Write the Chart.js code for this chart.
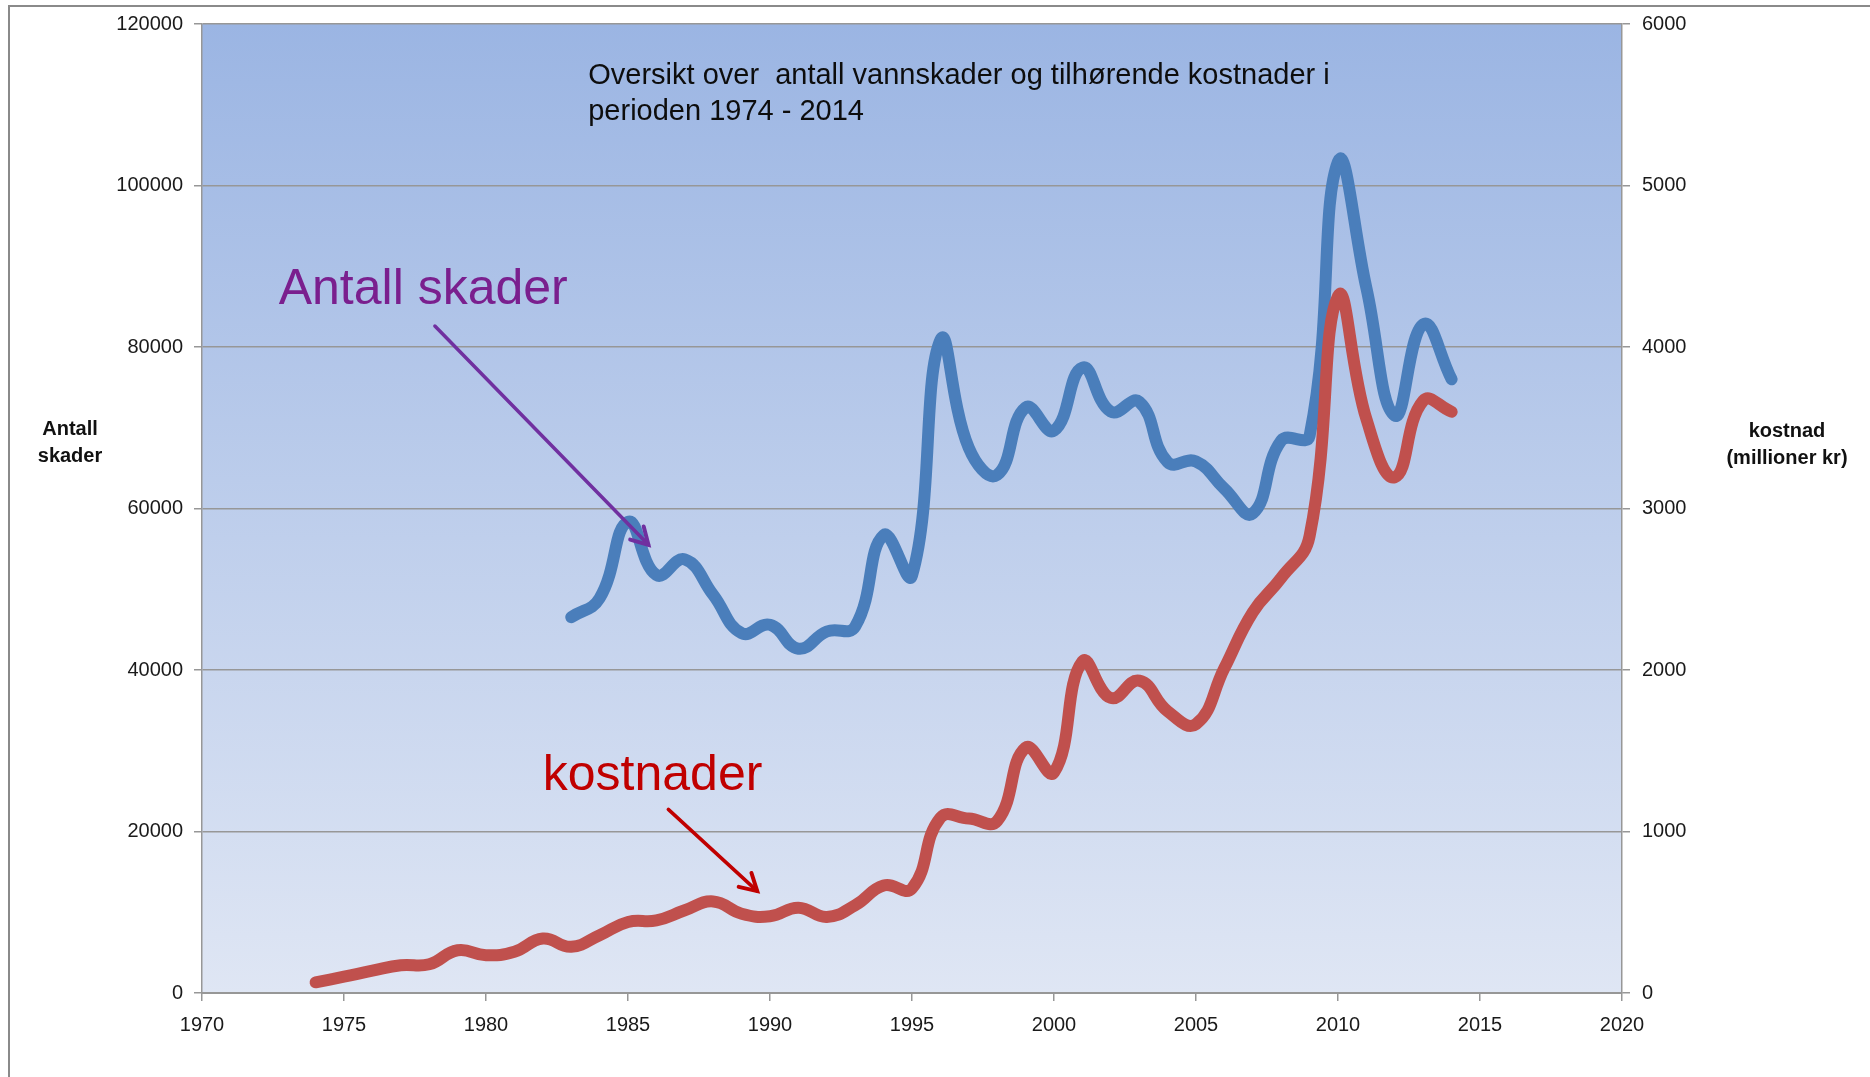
<!DOCTYPE html>
<html>
<head>
<meta charset="utf-8">
<title>Vannskader 1974 - 2014</title>
<script src="https://cdn.jsdelivr.net/npm/chart.js@4.4.1/dist/chart.umd.min.js"></script>
<style>
  html, body { margin: 0; padding: 0; background: #fff; }
  #wrap { position: relative; width: 1870px; height: 1077px; overflow: hidden; }
  #frame { position: absolute; left: 8px; top: 5px; right: -10px; bottom: -10px;
           border-left: 2px solid #8a8a8a; border-top: 2px solid #8a8a8a; }
  canvas { position: absolute; left: 0; top: 0; }
</style>
</head>
<body>
<div id="wrap">
  <div id="frame"></div>
  <canvas id="chart" width="1870" height="1077"></canvas>
</div>
<script>
// Data
const skadeYears = [1983, 1984, 1985, 1986, 1987, 1988, 1989, 1990, 1991, 1992,
                    1993, 1994, 1995, 1996, 1997, 1998, 1999, 2000, 2001, 2002,
                    2003, 2004, 2005, 2006, 2007, 2008, 2009, 2010, 2011, 2012,
                    2013, 2014];
const antallSkader = [46540, 48880, 58340, 51760, 53690, 49300, 44560, 45600, 42640, 44770,
                      45390, 56700, 51700, 80870, 67500, 64170, 72520, 69650, 77450, 71990,
                      73220, 65740, 65820, 62450, 59400, 68400, 69000, 102950, 87300, 71500,
                      82800, 76000];

const kostYears = [1974, 1975, 1976, 1977, 1978, 1979, 1980, 1981, 1982, 1983,
                   1984, 1985, 1986, 1987, 1988, 1989, 1990, 1991, 1992, 1993,
                   1994, 1995, 1996, 1997, 1998, 1999, 2000, 2001, 2002, 2003,
                   2004, 2005, 2006, 2007, 2008, 2009, 2010, 2011, 2012, 2013,
                   2014];
const kostnader = [66, 101, 138, 172, 178, 265, 234, 255, 337, 286,
                   358, 440, 450, 512, 567, 491, 475, 528, 471, 543,
                   666, 647, 1085, 1080, 1065, 1519, 1365, 2053, 1827, 1934,
                   1745, 1665, 2012, 2358, 2570, 2830, 4315, 3554, 3194, 3667,
                   3599];

// Tick labels
const xTicks = [1970, 1975, 1980, 1985, 1990, 1995, 2000, 2005, 2010, 2015, 2020];
const leftTicks = [0, 20000, 40000, 60000, 80000, 100000, 120000];
const rightTicks = [0, 1000, 2000, 3000, 4000, 5000, 6000];

// Texts
const titleLines = ['Oversikt over  antall vannskader og tilhørende kostnader i', 'perioden 1974 - 2014'];
const leftTitle = ['Antall', 'skader'];
const rightTitle = ['kostnad', '(millioner kr)'];
const labelSkader = 'Antall skader';
const labelKost = 'kostnader';

const FONT = '"Liberation Sans", Arial, sans-serif';
const GRID = '#979797';

function toPoints(xs, ys) {
  return xs.map((x, i) => ({ x: x, y: ys[i] }));
}

function setTicks(values) {
  return scale => { scale.ticks = values.map(v => ({ value: v })); };
}

/**
 * Gradient fill behind the plot area
 */
const plotBackground = {
  id: 'plotBackground',
  beforeDraw(chart) {
    const { ctx, chartArea: a } = chart;
    const g = ctx.createLinearGradient(0, a.top, 0, a.bottom);
    g.addColorStop(0, '#9bb5e3');
    g.addColorStop(1, '#dfe6f4');
    ctx.save();
    ctx.fillStyle = g;
    ctx.fillRect(a.left, a.top, a.right - a.left, a.bottom - a.top);
    ctx.restore();
  }
};

function arrow(ctx, x1, y1, x2, y2, color) {
  const ang = Math.atan2(y2 - y1, x2 - x1);
  const head = 19, spread = 0.52;
  ctx.strokeStyle = color;
  ctx.lineWidth = 3.5;
  ctx.lineCap = 'round';
  ctx.lineJoin = 'miter';
  ctx.beginPath();
  ctx.moveTo(x1, y1);
  ctx.lineTo(x2, y2);
  ctx.stroke();
  ctx.lineWidth = 4;
  ctx.beginPath();
  ctx.moveTo(x2 - head * Math.cos(ang - spread), y2 - head * Math.sin(ang - spread));
  ctx.lineTo(x2, y2);
  ctx.lineTo(x2 - head * Math.cos(ang + spread), y2 - head * Math.sin(ang + spread));
  ctx.stroke();
}

/**
 * Title, callout labels, arrows and horizontal axis titles
 */
const notes = {
  id: 'notes',
  afterDatasetsDraw(chart) {
    const { ctx, scales, chartArea: a } = chart;
    const px = v => scales.x.getPixelForValue(v);
    const py = v => scales.yLeft.getPixelForValue(v);

    ctx.save();
    ctx.textBaseline = 'middle';
    ctx.textAlign = 'left';

    // chart title inside the plot
    ctx.fillStyle = '#0d0d0d';
    ctx.font = '29px ' + FONT;
    ctx.fillText(titleLines[0], px(1983.6), py(113550));
    ctx.fillText(titleLines[1], px(1983.6), py(109100));

    // callouts
    ctx.font = '50px ' + FONT;
    ctx.fillStyle = '#7a1f8e';
    ctx.fillText(labelSkader, px(1972.7), py(87000));
    ctx.fillStyle = '#c00000';
    ctx.fillText(labelKost, px(1982.0), py(26800));

    arrow(ctx, px(1978.2), py(82600), px(1985.72), py(55500), '#7030a0');
    arrow(ctx, px(1986.42), py(22740), px(1989.55), py(12620), '#c00000');

    // axis titles (horizontal, two lines)
    ctx.textAlign = 'center';
    ctx.fillStyle = '#111';
    ctx.font = 'bold 20px ' + FONT;
    const midY = (a.top + a.bottom) / 2;
    ctx.fillText(leftTitle[0], 70, midY - 79);
    ctx.fillText(leftTitle[1], 70, midY - 52);
    ctx.fillText(rightTitle[0], 1787, midY - 77);
    ctx.fillText(rightTitle[1], 1787, midY - 50);
    ctx.restore();
  }
};

const chart = new Chart(document.getElementById('chart'), {
  type: 'line',
  data: {
    datasets: [
      {
        label: 'kostnader',
        data: toPoints(kostYears, kostnader),
        yAxisID: 'yRight',
        borderColor: '#c0504d',
        borderWidth: 12,
        borderCapStyle: 'round',
        borderJoinStyle: 'round',
        tension: 0.45,
        pointRadius: 0,
        fill: false,
        order: 0
      },
      {
        label: 'Antall skader',
        data: toPoints(skadeYears, antallSkader),
        yAxisID: 'yLeft',
        borderColor: '#4a7ebb',
        borderWidth: 12,
        borderCapStyle: 'round',
        borderJoinStyle: 'round',
        tension: 0.45,
        pointRadius: 0,
        fill: false,
        order: 1
      }
    ]
  },
  options: {
    responsive: false,
    animation: false,
    devicePixelRatio: 1,
    layout: { padding: { top: 20, left: 0, right: 0, bottom: 0 } },
    plugins: {
      legend: { display: false },
      tooltip: { enabled: false },
      title: { display: false }
    },
    scales: {
      x: {
        type: 'linear',
        min: 1970,
        max: 2020,
        afterBuildTicks: setTicks(xTicks),
        afterFit: s => { s.height = 84; },
        grid: { drawOnChartArea: false, drawTicks: true, tickLength: 8, color: GRID, lineWidth: 1.5 },
        border: { display: true, color: GRID, width: 2 },
        ticks: { padding: 12, color: '#1a1a1a', font: { family: FONT, size: 20 },
                 maxRotation: 0, callback: v => String(v) }
      },
      yLeft: {
        type: 'linear',
        position: 'left',
        min: 0,
        max: 120000,
        afterBuildTicks: setTicks(leftTicks),
        afterFit: s => { s.width = 202; },
        grid: { color: GRID, lineWidth: 1.5, tickLength: 8 },
        border: { display: true, color: GRID, width: 1.5 },
        ticks: { padding: 11, color: '#1a1a1a', font: { family: FONT, size: 20 },
                 callback: v => String(v) }
      },
      yRight: {
        type: 'linear',
        position: 'right',
        min: 0,
        max: 6000,
        afterBuildTicks: setTicks(rightTicks),
        afterFit: s => { s.width = 248; },
        grid: { drawOnChartArea: false, color: GRID, lineWidth: 1.5, tickLength: 8 },
        border: { display: true, color: GRID, width: 1.5 },
        ticks: { padding: 12, color: '#1a1a1a', font: { family: FONT, size: 20 },
                 callback: v => String(v) }
      }
    }
  },
  plugins: [plotBackground, notes]
});
</script>
</body>
</html>
